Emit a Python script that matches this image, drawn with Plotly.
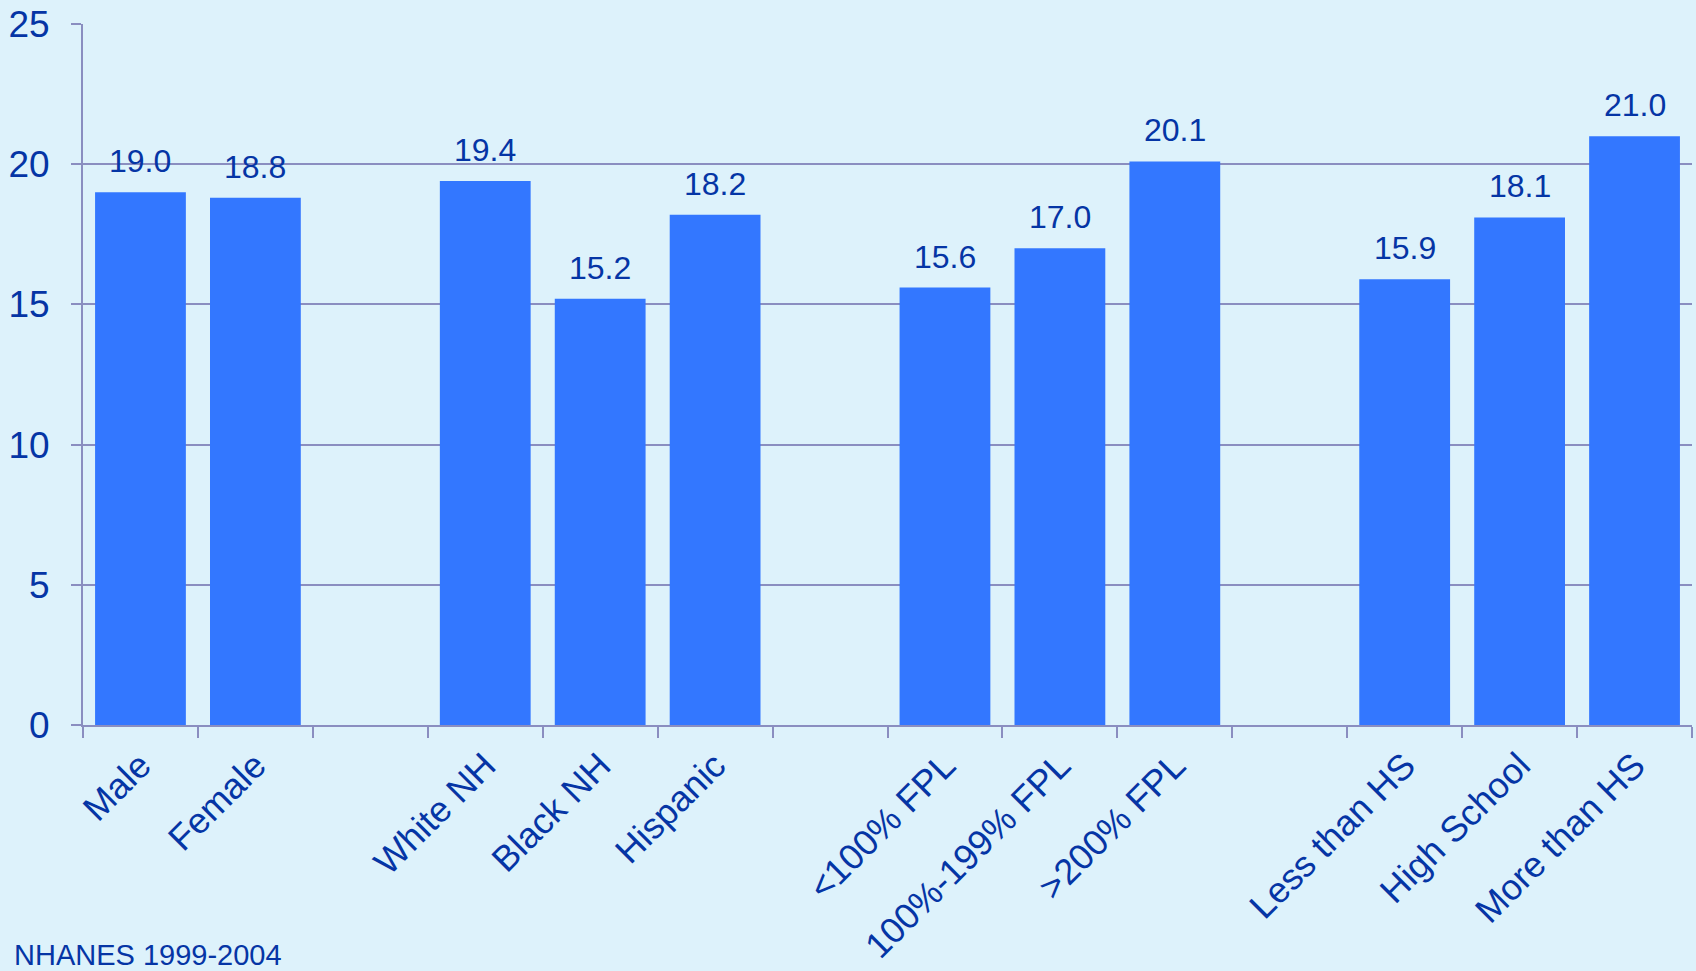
import plotly.graph_objects as go

categories = ["Male", "Female", " ", "White NH", "Black NH", "Hispanic", "  ",
              "<100% FPL", "100%-199% FPL", ">200% FPL", "   ",
              "Less than HS", "High School", "More than HS"]
values = [19.0, 18.8, None, 19.4, 15.2, 18.2, None,
          15.6, 17.0, 20.1, None,
          15.9, 18.1, 21.0]
y_ticks = [0, 5, 10, 15, 20, 25]
footnote = "NHANES 1999-2004"

TXT = "#0535A5"
BAR = "#3377FF"
GRID = "#8A8EC0"
FONT = "Liberation Sans, Arial, sans-serif"

fig = go.Figure()
fig.add_trace(go.Bar(
    x=categories, y=values,
    marker=dict(color=BAR, line=dict(width=0)),
    hoverinfo="skip",
))

for c, v in zip(categories, values):
    if v is None:
        continue
    fig.add_annotation(x=c, y=v, text=f"{v:.1f}", showarrow=False,
                       yanchor="bottom", yshift=11,
                       font=dict(size=32, color=TXT, family=FONT))

# footnote at pixel position (x=12, top y=937)
fig.add_annotation(x=(12 - 83) / 1609, y=(971 - 246 - 937) / 701,
                   xref="paper", yref="paper", text=footnote,
                   showarrow=False, xanchor="left", yanchor="top",
                   font=dict(size=29, color=TXT, family=FONT))

fig.update_layout(
    width=1696, height=971,
    margin=dict(l=83, r=4, t=24, b=246, autoexpand=False),
    paper_bgcolor="#DDF2FB",
    plot_bgcolor="rgba(0,0,0,0)",
    bargap=0.21,
    showlegend=False,
    font=dict(family=FONT, color=TXT),
)
fig.update_xaxes(
    type="category", categoryorder="array", categoryarray=categories,
    tickson="boundaries", ticks="outside", ticklen=11, tickwidth=2, tickcolor=GRID,
    showline=True, linecolor=GRID, linewidth=2,
    tickangle=-45, tickfont=dict(size=36, color=TXT, family=FONT),
    ticklabelstandoff=3, automargin=False, showgrid=False,
)
fig.update_yaxes(
    range=[0, 25], tickvals=y_ticks, ticks="outside", ticklen=10, tickwidth=2,
    tickcolor=GRID, showline=True, linecolor=GRID, linewidth=2,
    showgrid=True, gridcolor=GRID, gridwidth=2, zeroline=False,
    tickfont=dict(size=37, color=TXT, family=FONT), ticklabelstandoff=14,
    automargin=False,
)

fig.write_html("out.html")
